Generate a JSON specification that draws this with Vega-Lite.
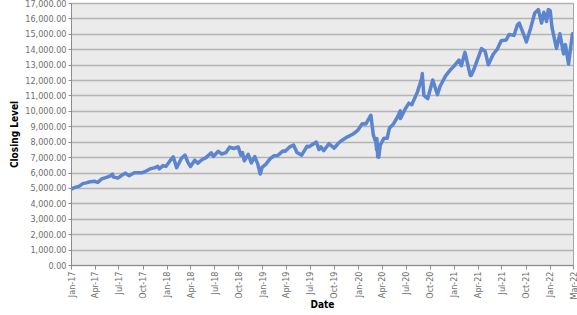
{
  "$schema": "https://vega.github.io/schema/vega-lite/v6.json",
  "autosize": "none",
  "padding": {"left": 71, "top": 3, "right": 4, "bottom": 50},
  "width": 502,
  "height": 262,
  "background": "white",
  "config": {
    "view": {"fill": "#ebebeb", "stroke": "#a6a6a6", "strokeWidth": 1},
    "axis": {"labelFont": "DejaVu Sans Condensed, DejaVu Sans", "titleFont": "DejaVu Sans Condensed, DejaVu Sans"}
  },
  "data": {
    "values": [
      {"date": "2017-01-03", "close": 4912},
      {"date": "2017-01-13", "close": 5020},
      {"date": "2017-01-31", "close": 5100},
      {"date": "2017-02-15", "close": 5280},
      {"date": "2017-02-28", "close": 5330},
      {"date": "2017-03-15", "close": 5400},
      {"date": "2017-03-31", "close": 5436},
      {"date": "2017-04-13", "close": 5360},
      {"date": "2017-04-28", "close": 5584},
      {"date": "2017-05-16", "close": 5690},
      {"date": "2017-05-31", "close": 5788},
      {"date": "2017-06-08", "close": 5900},
      {"date": "2017-06-12", "close": 5700},
      {"date": "2017-06-29", "close": 5640},
      {"date": "2017-07-14", "close": 5820},
      {"date": "2017-07-27", "close": 5960},
      {"date": "2017-08-10", "close": 5800},
      {"date": "2017-08-31", "close": 5988},
      {"date": "2017-09-14", "close": 5990},
      {"date": "2017-09-29", "close": 5980},
      {"date": "2017-10-13", "close": 6080},
      {"date": "2017-10-31", "close": 6248},
      {"date": "2017-11-15", "close": 6300},
      {"date": "2017-11-28", "close": 6400},
      {"date": "2017-12-04", "close": 6240},
      {"date": "2017-12-18", "close": 6450},
      {"date": "2017-12-29", "close": 6396},
      {"date": "2018-01-12", "close": 6720},
      {"date": "2018-01-26", "close": 7022},
      {"date": "2018-02-08", "close": 6310},
      {"date": "2018-02-27", "close": 6940},
      {"date": "2018-03-12", "close": 7131},
      {"date": "2018-03-23", "close": 6660},
      {"date": "2018-04-02", "close": 6390},
      {"date": "2018-04-18", "close": 6800},
      {"date": "2018-04-30", "close": 6606},
      {"date": "2018-05-15", "close": 6830},
      {"date": "2018-05-31", "close": 6967},
      {"date": "2018-06-20", "close": 7280},
      {"date": "2018-06-28", "close": 7040},
      {"date": "2018-07-17", "close": 7380},
      {"date": "2018-07-30", "close": 7200},
      {"date": "2018-08-15", "close": 7290},
      {"date": "2018-08-29", "close": 7650},
      {"date": "2018-09-14", "close": 7560},
      {"date": "2018-10-01", "close": 7660},
      {"date": "2018-10-11", "close": 7130},
      {"date": "2018-10-17", "close": 7300},
      {"date": "2018-10-24", "close": 6760},
      {"date": "2018-11-08", "close": 7180},
      {"date": "2018-11-20", "close": 6630},
      {"date": "2018-12-03", "close": 7030},
      {"date": "2018-12-14", "close": 6580},
      {"date": "2018-12-24", "close": 5899},
      {"date": "2018-12-31", "close": 6330},
      {"date": "2019-01-15", "close": 6550},
      {"date": "2019-01-31", "close": 6906},
      {"date": "2019-02-15", "close": 7090},
      {"date": "2019-02-28", "close": 7100},
      {"date": "2019-03-21", "close": 7400},
      {"date": "2019-03-29", "close": 7378},
      {"date": "2019-04-15", "close": 7660},
      {"date": "2019-04-30", "close": 7781},
      {"date": "2019-05-13", "close": 7300},
      {"date": "2019-05-31", "close": 7128},
      {"date": "2019-06-20", "close": 7700},
      {"date": "2019-06-28", "close": 7671},
      {"date": "2019-07-26", "close": 7980},
      {"date": "2019-08-05", "close": 7490},
      {"date": "2019-08-12", "close": 7670},
      {"date": "2019-08-23", "close": 7420},
      {"date": "2019-09-12", "close": 7870},
      {"date": "2019-10-02", "close": 7580},
      {"date": "2019-10-18", "close": 7900},
      {"date": "2019-10-31", "close": 8083},
      {"date": "2019-11-20", "close": 8300},
      {"date": "2019-12-13", "close": 8500},
      {"date": "2019-12-31", "close": 8733},
      {"date": "2020-01-17", "close": 9170},
      {"date": "2020-01-31", "close": 9151},
      {"date": "2020-02-19", "close": 9718},
      {"date": "2020-02-28", "close": 8462},
      {"date": "2020-03-09", "close": 7950},
      {"date": "2020-03-12", "close": 7480},
      {"date": "2020-03-13", "close": 8200},
      {"date": "2020-03-16", "close": 7020},
      {"date": "2020-03-20", "close": 6994},
      {"date": "2020-03-26", "close": 7800},
      {"date": "2020-04-09", "close": 8230},
      {"date": "2020-04-21", "close": 8220},
      {"date": "2020-04-30", "close": 8890},
      {"date": "2020-05-15", "close": 9150},
      {"date": "2020-05-29", "close": 9555},
      {"date": "2020-06-10", "close": 10000},
      {"date": "2020-06-11", "close": 9500},
      {"date": "2020-06-30", "close": 10157},
      {"date": "2020-07-13", "close": 10500},
      {"date": "2020-07-24", "close": 10400},
      {"date": "2020-08-14", "close": 11200},
      {"date": "2020-08-31", "close": 12110},
      {"date": "2020-09-02", "close": 12420},
      {"date": "2020-09-08", "close": 11000},
      {"date": "2020-09-23", "close": 10800},
      {"date": "2020-10-12", "close": 12000},
      {"date": "2020-10-30", "close": 11052},
      {"date": "2020-11-09", "close": 11600},
      {"date": "2020-11-30", "close": 12268},
      {"date": "2020-12-15", "close": 12600},
      {"date": "2020-12-31", "close": 12888},
      {"date": "2021-01-20", "close": 13300},
      {"date": "2021-01-29", "close": 12925},
      {"date": "2021-02-12", "close": 13800},
      {"date": "2021-03-04", "close": 12300},
      {"date": "2021-03-08", "close": 12300},
      {"date": "2021-03-18", "close": 12700},
      {"date": "2021-04-16", "close": 14040},
      {"date": "2021-04-30", "close": 13860},
      {"date": "2021-05-12", "close": 12990},
      {"date": "2021-05-31", "close": 13687},
      {"date": "2021-06-15", "close": 14000},
      {"date": "2021-06-30", "close": 14554},
      {"date": "2021-07-19", "close": 14600},
      {"date": "2021-07-30", "close": 14960},
      {"date": "2021-08-18", "close": 14900},
      {"date": "2021-08-31", "close": 15580},
      {"date": "2021-09-07", "close": 15700},
      {"date": "2021-09-30", "close": 14690},
      {"date": "2021-10-04", "close": 14470},
      {"date": "2021-10-21", "close": 15400},
      {"date": "2021-11-05", "close": 16350},
      {"date": "2021-11-19", "close": 16570},
      {"date": "2021-12-01", "close": 15700},
      {"date": "2021-12-10", "close": 16400},
      {"date": "2021-12-20", "close": 15800},
      {"date": "2021-12-27", "close": 16570},
      {"date": "2022-01-03", "close": 16500},
      {"date": "2022-01-10", "close": 15400},
      {"date": "2022-01-27", "close": 14050},
      {"date": "2022-02-09", "close": 15000},
      {"date": "2022-02-23", "close": 13700},
      {"date": "2022-03-02", "close": 14300},
      {"date": "2022-03-14", "close": 13046},
      {"date": "2022-03-29", "close": 15000},
      {"date": "2022-03-31", "close": 14838}
    ]
  },
  "mark": {"type": "line", "color": "#5b85cf", "strokeWidth": 3.5, "strokeJoin": "round", "clip": true},
  "encoding": {
    "x": {
      "field": "date",
      "type": "temporal",
      "scale": {
        "type": "utc",
        "domain": [
          {"year": 2017, "month": 1, "date": 1, "utc": true},
          {"year": 2022, "month": 3, "date": 31, "utc": true}
        ]
      },
      "axis": {
        "title": "Date",
        "format": "%b-%y",
        "values": [
          {"year": 2017, "month": 1, "date": 1, "utc": true},
          {"year": 2017, "month": 4, "date": 1, "utc": true},
          {"year": 2017, "month": 7, "date": 1, "utc": true},
          {"year": 2017, "month": 10, "date": 1, "utc": true},
          {"year": 2018, "month": 1, "date": 1, "utc": true},
          {"year": 2018, "month": 4, "date": 1, "utc": true},
          {"year": 2018, "month": 7, "date": 1, "utc": true},
          {"year": 2018, "month": 10, "date": 1, "utc": true},
          {"year": 2019, "month": 1, "date": 1, "utc": true},
          {"year": 2019, "month": 4, "date": 1, "utc": true},
          {"year": 2019, "month": 7, "date": 1, "utc": true},
          {"year": 2019, "month": 10, "date": 1, "utc": true},
          {"year": 2020, "month": 1, "date": 1, "utc": true},
          {"year": 2020, "month": 4, "date": 1, "utc": true},
          {"year": 2020, "month": 7, "date": 1, "utc": true},
          {"year": 2020, "month": 10, "date": 1, "utc": true},
          {"year": 2021, "month": 1, "date": 1, "utc": true},
          {"year": 2021, "month": 4, "date": 1, "utc": true},
          {"year": 2021, "month": 7, "date": 1, "utc": true},
          {"year": 2021, "month": 10, "date": 1, "utc": true},
          {"year": 2022, "month": 1, "date": 1, "utc": true},
          {"year": 2022, "month": 3, "date": 31, "utc": true}
        ],
        "labelAngle": -90,
        "labelAlign": "right",
        "labelBaseline": "middle",
        "labelFontSize": 9,
        "labelColor": "#6e6e6e",
        "labelPadding": 2,
        "labelOverlap": false,
        "labelFlush": false,
        "tickSize": 4,
        "tickColor": "#8c8c8c",
        "domainColor": "#8c8c8c",
        "grid": false,
        "titleFontSize": 10,
        "titleFontWeight": "bold",
        "titleColor": "#000000",
        "titleY": 39,
        "titleBaseline": "middle"
      }
    },
    "y": {
      "field": "close",
      "type": "quantitative",
      "scale": {"domain": [0, 17000], "nice": false, "zero": true},
      "axis": {
        "title": "Closing Level",
        "format": ",.2f",
        "values": [0, 1000, 2000, 3000, 4000, 5000, 6000, 7000, 8000, 9000, 10000, 11000, 12000, 13000, 14000, 15000, 16000, 17000],
        "labelFontSize": 9,
        "labelColor": "#6e6e6e",
        "labelPadding": 2,
        "labelOverlap": false,
        "labelFlush": false,
        "tickSize": 3,
        "tickColor": "#8c8c8c",
        "domainColor": "#8c8c8c",
        "grid": true,
        "gridColor": "#b3b3b3",
        "gridWidth": 1.5,
        "titleFontSize": 10,
        "titleFontWeight": "bold",
        "titleColor": "#000000",
        "titleX": -57,
        "titleBaseline": "middle"
      }
    }
  }
}
